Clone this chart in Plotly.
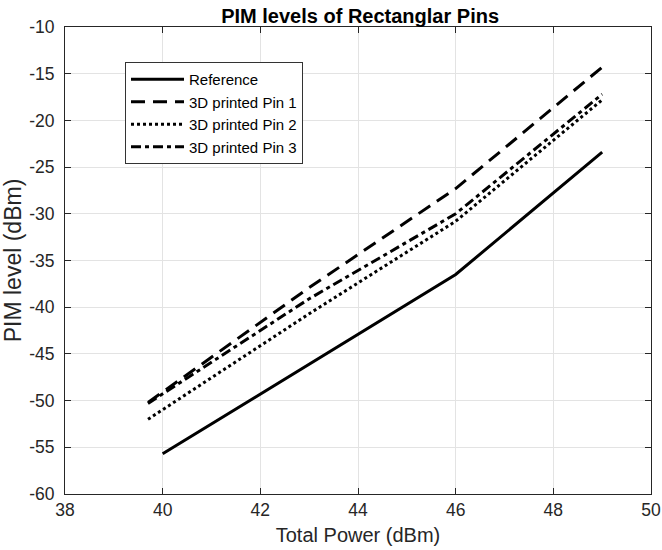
import plotly.graph_objects as go

ref_x = [40, 43, 46, 49]
ref_y = [-55.7, -46.1, -36.5, -23.4]

pin_x = [39.7, 43, 46, 49]
pin1_y = [-50.2, -37.9, -27.3, -14.3]
pin2_y = [-52.0, -40.7, -30.8, -17.8]
pin3_y = [-50.3, -39.1, -30.0, -17.2]

names = ["Reference", "3D printed Pin 1", "3D printed Pin 2", "3D printed Pin 3"]

x_ticks = [38, 40, 42, 44, 46, 48, 50]
y_ticks = [-60, -55, -50, -45, -40, -35, -30, -25, -20, -15, -10]

FONT = "Liberation Sans, Arial, sans-serif"
AX = "#262626"

W, H = 662, 550

fig = go.Figure()
fig.add_trace(go.Scatter(x=ref_x, y=ref_y, mode="lines", name=names[0],
                         line=dict(color="black", width=3, dash="solid")))
fig.add_trace(go.Scatter(x=pin_x, y=pin1_y, mode="lines", name=names[1],
                         line=dict(color="black", width=3, dash="14px,8px")))
fig.add_trace(go.Scatter(x=pin_x, y=pin2_y, mode="lines", name=names[2],
                         line=dict(color="black", width=3, dash="3px,3px")))
fig.add_trace(go.Scatter(x=pin_x, y=pin3_y, mode="lines", name=names[3],
                         line=dict(color="black", width=3, dash="10px,4px,4px,4px")))

axis_common = dict(
    showgrid=True, gridcolor="#e3e3e3", gridwidth=1,
    showline=True, linecolor=AX, linewidth=1, mirror="ticks",
    ticks="inside", ticklen=6, tickcolor=AX,
    tickfont=dict(family=FONT, size=17.5, color=AX),
    zeroline=False, automargin=False,
)

fig.update_layout(
    width=W, height=H,
    margin=dict(l=65, r=11, t=27, b=56),
    paper_bgcolor="white", plot_bgcolor="white",
    title=dict(text="<b>PIM levels of Rectanglar Pins</b>", x=0.544, xanchor="center",
               y=0.971, yanchor="middle", font=dict(family=FONT, size=20, color="black"),
               automargin=False),
    xaxis=dict(range=[38, 50], tickvals=x_ticks, ticktext=[str(v) for v in x_ticks],
               title=dict(text="Total Power (dBm)", font=dict(family=FONT, size=20, color=AX), standoff=8),
               **axis_common),
    yaxis=dict(range=[-60, -10], tickvals=y_ticks, ticktext=[str(v) for v in y_ticks],
               ticklabelstandoff=6,
               title=dict(text="PIM level (dBm)", font=dict(family=FONT, size=23, color=AX), standoff=6),
               **axis_common),
    legend=dict(x=0.1024, y=0.925, xanchor="left", yanchor="top",
                bgcolor="white", bordercolor="#333333", borderwidth=1,
                font=dict(family=FONT, size=15, color="black"),
                itemwidth=53, tracegroupgap=0),
    showlegend=True,
)

fig.write_html(
    "out.html",
    config={"displayModeBar": False},
    post_script="document.body.style.margin='0';document.documentElement.style.overflow='hidden';",
)
